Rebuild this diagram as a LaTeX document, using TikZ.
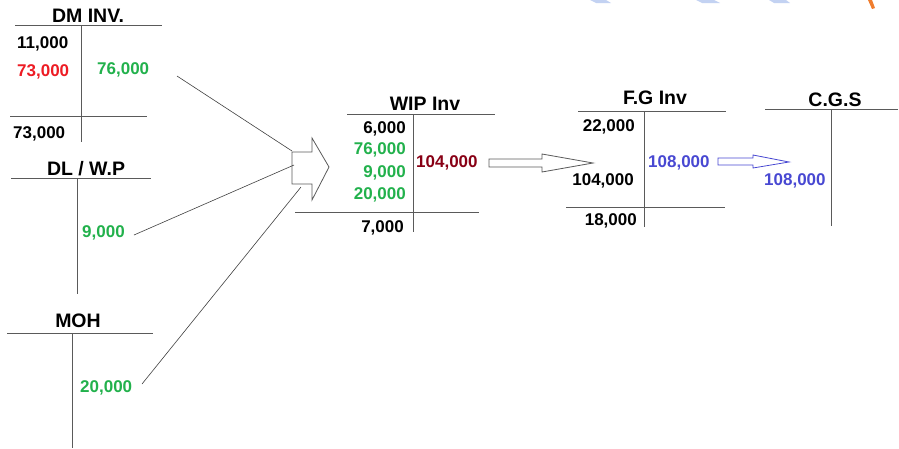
\documentclass[tikz,border=0pt]{standalone}
\usepackage{fontspec}
\setmainfont{Liberation Sans}
\definecolor{tgreen}{RGB}{34,177,76}
\definecolor{tred}{RGB}{237,28,36}
\definecolor{tdred}{RGB}{136,0,21}
\definecolor{tblue}{RGB}{72,72,210}
\definecolor{tline}{RGB}{90,90,90}
\definecolor{wmblue}{RGB}{195,210,242}
\definecolor{wmorange}{RGB}{240,125,45}
\begin{document}
\begin{tikzpicture}[x=1pt,y=-1pt,
 num/.style={font=\fontsize{17}{20}\selectfont\bfseries, inner sep=0pt},
 ttl/.style={font=\fontsize{19.5}{22}\selectfont\bfseries, inner sep=0pt, anchor=base},
 tline/.style={draw=tline, line width=1pt},
 conn/.style={draw=black!75, line width=0.6pt},
 barrow/.style={draw=tline, line width=0.8pt, fill=white}]
\useasboundingbox (0,0) rectangle (899,448);
% faint fragments at top
\fill[wmblue] (590,0) -- (606,0) -- (611,3) -- (596,3) -- cycle;
\fill[wmblue] (696,0) -- (714,0) -- (720,3) -- (702,3) -- cycle;
\fill[wmblue] (769,0) -- (786,0) -- (790,3) -- (774,3) -- cycle;
\fill[wmorange] (868,0) -- (872,0) -- (875,8) -- (872,9) -- cycle;

% DM INV.
\node[ttl] (tdm) at (88,22) {DM INV.};
\draw[tline] (15,25) -- (162,25);
\draw[tline] (81,25) -- (81,142);
\draw[tline] (10,116) -- (147,116);
\node[num, anchor=base west] (dm1) at (17,48) {11,000};
\node[num, anchor=base west, text=tred] (dm2) at (17,76) {73,000};
\node[num, anchor=base west, text=tgreen] (dm3) at (97,74) {76,000};
\node[num, anchor=base west] (dm4) at (13,138) {73,000};

% DL / W.P
\node[ttl] (tdl) at (86,175) {DL / W.P};
\draw[tline] (11,178) -- (151,178);
\draw[tline] (77,178) -- (77,294);
\node[num, anchor=base west, text=tgreen] (dl1) at (82,237) {9,000};

% MOH
\node[ttl] (tmoh) at (78,327) {MOH};
\draw[tline] (7,333) -- (153,333);
\draw[tline] (72,333) -- (72,448);
\node[num, anchor=base west, text=tgreen] (moh1) at (80,392) {20,000};

% WIP Inv
\node[ttl] (twip) at (425,110) {WIP Inv};
\draw[tline] (347,114) -- (495,114);
\draw[tline] (413,114) -- (413,232);
\draw[tline] (295,212) -- (479,212);
\node[num, anchor=base east] (w1) at (406,133) {6,000};
\node[num, anchor=base east, text=tgreen] (w2) at (406,154) {76,000};
\node[num, anchor=base east, text=tgreen] (w3) at (406,177) {9,000};
\node[num, anchor=base east, text=tgreen] (w4) at (406,199) {20,000};
\node[num, anchor=base east] (w5) at (404,232) {7,000};
\node[num, anchor=base west, text=tdred] (w6) at (416,167) {104,000};

% F.G Inv
\node[ttl] (tfg) at (655,104) {F.G Inv};
\draw[tline] (578,111) -- (726,111);
\draw[tline] (644,111) -- (644,227);
\draw[tline] (566,207) -- (725,207);
\node[num, anchor=base east] (f1) at (635,131) {22,000};
\node[num, anchor=base east] (f2) at (634,185) {104,000};
\node[num, anchor=base east] (f3) at (637,225) {18,000};
\node[num, anchor=base west, text=tblue] (f4) at (648,167) {108,000};

% C.G.S
\node[ttl] (tcgs) at (835,106) {C.G.S};
\draw[tline] (765,109) -- (898,109);
\draw[tline] (831,109) -- (831,226);
\node[num, anchor=base west, text=tblue] (c1) at (764,185) {108,000};

% block arrows
\draw[barrow] (292,152) coordinate (a1tl) -- (312,152) -- (312,138) -- (329,167) -- (312,200) -- (312,184) -- (292,184) coordinate (a1bl) -- cycle;
\coordinate (a1l) at (294,165);
\coordinate (a1b) at (301,187);
\draw[barrow] (489,159) -- (542,159) -- (542,154) -- (593,163) -- (542,172) -- (542,167) -- (489,167) -- cycle;
\draw[barrow, draw=tblue] (718,158) -- (753,158) -- (753,155) -- (789,162) -- (753,168) -- (753,165) -- (718,165) -- cycle;

% connectors
\coordinate (s1) at (177,76);
\coordinate (s2) at (134,235);
\coordinate (s3) at (142,384);
\draw[conn] (s1) -- (292,151);
\draw[conn] (s2) -- (a1l);
\draw[conn] (s3) -- (a1b);
\end{tikzpicture}
\end{document}
